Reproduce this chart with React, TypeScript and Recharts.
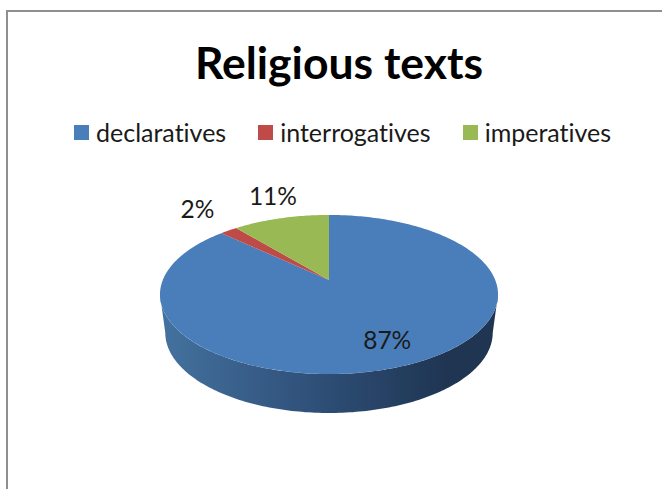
import { PieChart, Pie, Legend } from 'recharts';

const categories = ['declaratives', 'interrogatives', 'imperatives'];
const shares = [87, 2, 11];
const colors = ['#4A7EBB', '#BE4B48', '#98B954'];
const labelShifts = [[-21, -25], [-31, -22], [-8, -23]];

const chartData = categories.map((name, i) => ({ name, value: shares[i], fill: colors[i] }));

const FONT = 'Lato, "Open Sans", sans-serif';

// Tilted pie: a point on the unit disc is projected with perspective, so the centre sits above the middle of the ellipse
const TILT = 0.182;
const topFace = { a: 1.662, b: 0.769, dy: 0 };
const bottomFace = { a: 1.61, b: 0.777, dy: 38 };
// Angle where the projected rim is widest, the wall is visible between it and its mirror
const WALL_FROM = (Math.acos(-TILT) * 180) / Math.PI;
const WALL_TO = 360 - WALL_FROM;

type Face = { a: number; b: number; dy: number };

function project(cx: number, cy: number, r: number, deg: number, face: Face) {
  const rad = (deg * Math.PI) / 180;
  const X = Math.sin(rad);
  const Y = Math.cos(rad);
  const d = 1 + TILT * Y;
  return { x: cx + (r * face.a * X) / d, y: cy + face.dy - (r * face.b * Y) / d };
}

function rimPoints(cx: number, cy: number, r: number, from: number, to: number, face: Face) {
  const pts = [];
  const steps = Math.max(2, Math.ceil(Math.abs(to - from)));
  for (let i = 0; i <= steps; i++) {
    const p = project(cx, cy, r, from + ((to - from) * i) / steps, face);
    pts.push(`${p.x.toFixed(2)},${p.y.toFixed(2)}`);
  }
  return pts;
}

function Slice3D(props: any) {
  const { cx, cy, outerRadius, startAngle, endAngle, fill, index } = props;
  // Recharts angles are counter-clockwise from east, the projection runs clockwise from north
  const from = 90 - startAngle;
  const to = 90 - endAngle;
  const wallA = Math.max(from, WALL_FROM);
  const wallB = Math.min(to, WALL_TO);
  const hasWall = wallB > wallA;
  const gradId = `wall-${index}`;
  const left = cx - outerRadius * 1.69;
  const right = cx + outerRadius * 1.69;
  return (
    <g>
      {hasWall && (
        <>
          <defs>
            <linearGradient id={gradId} gradientUnits="userSpaceOnUse" x1={left} x2={right} y1={0} y2={0}>
              <stop offset="0%" stopColor="#44729F" />
              <stop offset="45%" stopColor="#2F5079" />
              <stop offset="85%" stopColor="#1F3552" />
              <stop offset="100%" stopColor="#1F3552" />
            </linearGradient>
          </defs>
          <polygon
            fill={`url(#${gradId})`}
            points={[
              ...rimPoints(cx, cy, outerRadius, wallA, wallB, topFace),
              ...rimPoints(cx, cy, outerRadius, wallB, wallA, bottomFace),
            ].join(' ')}
          />
        </>
      )}
      <polygon
        fill={fill}
        points={[`${cx},${cy}`, ...rimPoints(cx, cy, outerRadius, from, to, topFace)].join(' ')}
      />
    </g>
  );
}

function SliceLabel(props: any) {
  const { cx, cy, outerRadius, midAngle, value, index } = props;
  const p = project(cx, cy, outerRadius, 90 - midAngle, topFace);
  const [dx, dy] = labelShifts[index];
  return (
    <text
      x={p.x + dx}
      y={p.y + dy}
      textAnchor="middle"
      dominantBaseline="central"
      fontFamily={FONT}
      fontSize={24.5}
      fill="#1a1a1a"
    >
      {`${value}%`}
    </text>
  );
}

function LegendRow({ payload }: any) {
  return (
    <div
      style={{
        display: 'flex',
        fontFamily: FONT,
        fontSize: 25,
        fontVariantLigatures: 'none',
        color: '#1a1a1a',
        lineHeight: '28px',
      }}
    >
      {(payload ?? []).map((item: any) => (
        <div key={item.value} style={{ display: 'flex', alignItems: 'center', marginRight: 32 }}>
          <span style={{ width: 15, height: 15, background: item.color, marginRight: 7 }} />
          {item.value}
        </div>
      ))}
    </div>
  );
}

export default function App() {
  return (
    <div style={{ position: 'absolute', left: 0, top: 0, width: 662, height: 489, overflow: 'hidden', background: '#fff' }}>
      <div
        style={{
          position: 'absolute',
          left: 6,
          top: 10,
          width: 700,
          height: 500,
          borderLeft: '2px solid #8f8f8f',
          borderTop: '2px solid #8f8f8f',
        }}
      />
      <PieChart width={662} height={489} margin={{ top: 0, right: 0, bottom: 0, left: 0 }} style={{ position: 'absolute' }}>
        <text x={339} y={61} textAnchor="middle" dominantBaseline="central" fontFamily={FONT} fontSize={44.5} fontWeight={700} fill="#000">
          Religious texts
        </text>
        <Legend
          layout="horizontal"
          verticalAlign="middle"
          align="center"
          content={<LegendRow />}
          itemSorter={null}
          wrapperStyle={{ top: 118, left: 74, width: 600 }}
        />
        <Pie
          data={chartData}
          dataKey="value"
          nameKey="name"
          cx={329}
          cy={280}
          outerRadius={100}
          startAngle={90}
          endAngle={-270}
          stroke="none"
          isAnimationActive={false}
          shape={Slice3D}
          label={SliceLabel}
          labelLine={false}
        />
      </PieChart>
    </div>
  );
}
